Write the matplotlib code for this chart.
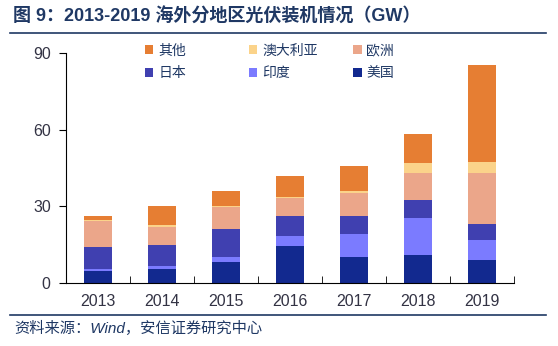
import matplotlib
matplotlib.use("Agg")
import matplotlib.pyplot as plt
import numpy as np

plt.rcParams['font.family'] = ['Liberation Sans', 'Noto Sans CJK SC', 'DejaVu Sans']

years = ['2013', '2014', '2015', '2016', '2017', '2018', '2019']
# 单位 GW，自下而上堆叠
meiguo = [4.6, 5.6, 8.1, 14.3, 10.0, 10.8, 8.9]
yindu = [1.0, 0.9, 1.9, 4.0, 9.0, 14.5, 7.8]
riben = [8.4, 8.2, 11.0, 7.8, 7.1, 7.0, 6.3]
ouzhou = [10.1, 7.2, 8.6, 7.0, 9.0, 10.6, 19.9]
aodaliya = [0.7, 0.7, 0.7, 0.7, 0.8, 3.9, 4.6]
qita = [1.5, 7.7, 5.6, 7.9, 10.0, 11.6, 37.9]

series = [
    ('美国', meiguo, '#12298F'),
    ('印度', yindu, '#7B7BFF'),
    ('日本', riben, '#4040B0'),
    ('欧洲', ouzhou, '#EBA68A'),
    ('澳大利亚', aodaliya, '#FBD38A'),
    ('其他', qita, '#E67E33'),
]

navy = '#1F3864'
txt = '#333344'

fig = plt.figure(figsize=(5.58, 3.46), dpi=100)
ax = fig.add_axes([0.1183, 0.182, 0.8029, 0.665])

x = np.arange(len(years))
bottom = np.zeros(len(years))
bars = {}
for name, vals, color in series:
    bars[name] = ax.bar(x, vals, width=0.43, bottom=bottom, color=color, label=name)
    bottom += np.array(vals)

ax.set_xlim(-0.5, 6.5)
ax.set_ylim(0, 90)
ax.set_yticks([0, 30, 60, 90])
ax.set_xticks(x)
ax.set_xticklabels(years)
ax.set_xticks(np.arange(-0.5, 7.0, 1.0), minor=True)
ax.tick_params(axis='x', which='major', length=0, pad=8, labelsize=11.5, labelcolor=txt)
ax.tick_params(axis='x', which='minor', direction='in', length=5, color='black')
ax.tick_params(axis='y', direction='out', length=5, pad=6, labelsize=11.5, labelcolor=txt)
for s in ['top', 'right']:
    ax.spines[s].set_visible(False)

# 三列图例，每列两行
cols = [(['其他', '日本'], 0.26), (['澳大利亚', '印度'], 0.446), (['欧洲', '美国'], 0.633)]
for names, xpos in cols:
    leg = fig.legend([bars[n] for n in names], names, loc='center left',
                     bbox_to_anchor=(xpos, 0.821), frameon=False, fontsize=10,
                     handlelength=0.6, handleheight=0.6, handletextpad=0.35,
                     labelspacing=0.6, borderpad=0, borderaxespad=0)
    for t in leg.get_texts():
        t.set_color(navy)

fig.text(0.023, 0.953, '图 9：2013-2019 海外分地区光伏装机情况（GW）', fontsize=13,
         fontweight='bold', color=navy, va='center', ha='left')
fig.add_artist(plt.Line2D([0.018, 0.978], [0.905, 0.905], color=navy, lw=1.2))
fig.add_artist(plt.Line2D([0.018, 0.978], [0.09, 0.09], color=navy, lw=1.2))
fig.text(0.025, 0.05, '资料来源：Wind，安信证券研究中心', fontsize=11, color=navy,
         va='center', ha='left', style='italic')

fig.savefig('out.png', dpi=100)
